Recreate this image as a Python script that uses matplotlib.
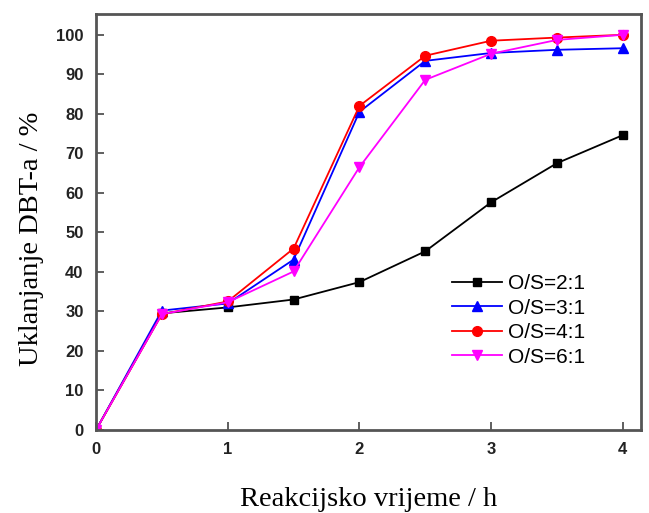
import matplotlib
matplotlib.use("Agg")
import matplotlib.pyplot as plt
import numpy as np

# reaction time (h)
time_h = [0, 0.5, 1, 1.5, 2, 2.5, 3, 3.5, 4]

# DBT removal (%) for each O/S ratio
os_2_1 = [0, 29.5, 31.0, 33.0, 37.4, 45.2, 57.6, 67.5, 74.6]
os_3_1 = [0, 30.2, 32.0, 43.1, 80.5, 93.4, 95.4, 96.2, 96.6]
os_4_1 = [0, 29.3, 32.5, 45.9, 82.0, 94.7, 98.5, 99.3, 100.0]
os_6_1 = [0, 29.3, 32.3, 40.1, 66.5, 88.6, 95.2, 98.7, 100.0]

labels = ["O/S=2:1", "O/S=3:1", "O/S=4:1", "O/S=6:1"]

fig = plt.figure(figsize=(6.49, 5.13), dpi=100)
ax = fig.add_axes([0.148, 0.162, 0.84, 0.811])

ax.plot(time_h, os_2_1, color="black", marker="s", markersize=6, lw=1.3, label=labels[0])
ax.plot(time_h, os_3_1, color="blue", marker="^", markersize=7, lw=1.3, label=labels[1])
ax.plot(time_h, os_4_1, color="red", marker="o", markersize=7, lw=1.3, label=labels[2])
ax.plot(time_h, os_6_1, color="magenta", marker="v", markersize=7, lw=1.3, label=labels[3])

ax.set_xlim(0, 4.14)
ax.set_ylim(0, 105.3)
ax.set_xticks([0, 1, 2, 3, 4])
ax.set_yticks(np.arange(0, 101, 10))
ax.tick_params(direction="in", length=6, width=1.2, colors="#444444", labelcolor="#222222", pad=9)
for lab in ax.get_xticklabels() + ax.get_yticklabels():
    lab.set_fontweight("bold")
    lab.set_fontfamily("Liberation Sans")
    lab.set_fontsize(12)
for s in ax.spines.values():
    s.set_linewidth(2)
    s.set_color("#555555")

ax.set_xlabel("Reakcijsko vrijeme / h", family="Liberation Serif", fontsize=20.5, labelpad=21)
ax.set_ylabel("Uklanjanje DBT-a / %", family="Liberation Serif", fontsize=20.5)
ax.yaxis.set_label_coords(-0.096, 0.46)

leg = ax.legend(loc="upper left", bbox_to_anchor=(0.653, 0.374), frameon=False,
                borderaxespad=0, borderpad=0,
                prop={"family": "Liberation Sans", "size": 15}, handlelength=2.4,
                handletextpad=0.3, labelspacing=0.26)

fig.savefig("out.png", dpi=100)
